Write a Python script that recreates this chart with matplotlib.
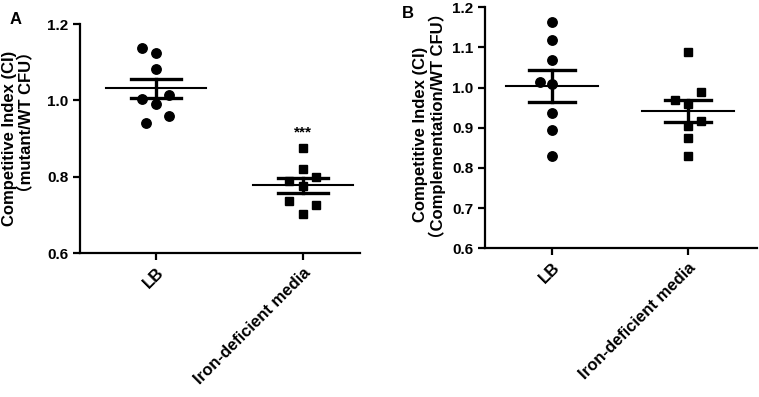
import matplotlib.pyplot as plt
import numpy as np

plt.rcParams['font.family'] = ['Liberation Sans', 'Noto Sans CJK SC']
plt.rcParams['font.weight'] = 'bold'

groups = ['LB', 'Iron-deficient media']

# panel A: mutant / WT
a_lb = [1.136, 1.123, 1.082, 1.003, 1.014, 0.991, 0.960, 0.940]
a_lb_dx = [-1, 0, 0, -1, 1, 0, 1, -0.7]
a_iron = [0.875, 0.820, 0.799, 0.788, 0.775, 0.735, 0.725, 0.703]
a_iron_dx = [0, 0, 1, -1, 0, -1, 1, 0]

# panel B: complementation / WT
b_lb = [1.163, 1.119, 1.069, 1.014, 1.009, 0.936, 0.895, 0.830]
b_lb_dx = [0, 0, 0, -1, 0, 0, 0, 0]
b_iron = [1.088, 0.988, 0.969, 0.958, 0.918, 0.904, 0.874, 0.830]
b_iron_dx = [0, 1, -1, 0, 1, 0, 0, 0]

W, H = 759, 397
fig = plt.figure(figsize=(W / 100, H / 100), dpi=100)
axA = fig.add_axes([0.1054, 0.3627, 0.3689, 0.5768])
axB = fig.add_axes([0.639, 0.3746, 0.358, 0.607])


def draw_group(ax, x, vals, dx, marker, ms):
    vals = np.array(vals)
    ax.plot(x + 0.093 * np.array(dx), vals, ls='', marker=marker, ms=ms,
            color='black', zorder=3)
    m = vals.mean()
    sem = vals.std(ddof=1) / np.sqrt(len(vals))
    ax.plot([x - 0.34, x + 0.34], [m, m], color='black', lw=1.5, zorder=4)
    ax.plot([x - 0.17, x + 0.17], [m + sem, m + sem], color='black', lw=2.4, zorder=4)
    ax.plot([x - 0.17, x + 0.17], [m - sem, m - sem], color='black', lw=2.4, zorder=4)
    ax.plot([x, x], [m - sem, m + sem], color='black', lw=2.4, zorder=4)


def style(ax, ylim, yticks, fmt):
    ax.set_ylim(ylim)
    ax.set_yticks(yticks)
    ax.set_yticklabels([fmt.format(t) for t in yticks], fontsize=11, fontweight='bold')
    ax.set_xticks([0, 1])
    ax.set_xticklabels(groups, rotation=45, ha='right', rotation_mode='anchor',
                       fontsize=12, fontweight='bold')
    for s in ['top', 'right']:
        ax.spines[s].set_visible(False)
    for s in ['left', 'bottom']:
        ax.spines[s].set_linewidth(1.6)
    ax.tick_params(width=1.6, length=5)


def ylabel_line(px, py, s):
    # one line of a two-line rotated y label, placed in pixel coords
    fig.text(px / W, 1 - py / H, s, rotation=90, ha='center', va='center',
             fontsize=12, fontweight='bold')


draw_group(axA, 0, a_lb, a_lb_dx, 'o', 6.8)
draw_group(axA, 1, a_iron, a_iron_dx, 's', 6.4)
axA.set_xlim(-0.515, 1.39)
style(axA, (0.6, 1.2), [0.6, 0.8, 1.0, 1.2], '{:.1f}')
axA.text(1, np.max(a_iron) + 0.04, '***', ha='center', va='center', fontsize=11)
ylabel_line(10, 138, 'Competitive Index (CI)')
ylabel_line(26, 122, '\uff08mutant/WT CFU\uff09')

draw_group(axB, 0, b_lb, b_lb_dx, 'o', 6.8)
draw_group(axB, 1, b_iron, b_iron_dx, 's', 6.4)
axB.set_xlim(-0.495, 1.505)
style(axB, (0.6, 1.2), [0.6, 0.7, 0.8, 0.9, 1.0, 1.1, 1.2], '{:.1f}')
ylabel_line(420, 134, 'Competitive Index (CI)')
ylabel_line(437, 126, '\uff08Complementation/WT CFU\uff09')

fig.text(0.013, 0.95, 'A', fontsize=12, fontweight='bold', ha='left', va='center')
fig.text(0.530, 0.965, 'B', fontsize=12, fontweight='bold', ha='left', va='center')

fig.savefig('out.png', dpi=100)
